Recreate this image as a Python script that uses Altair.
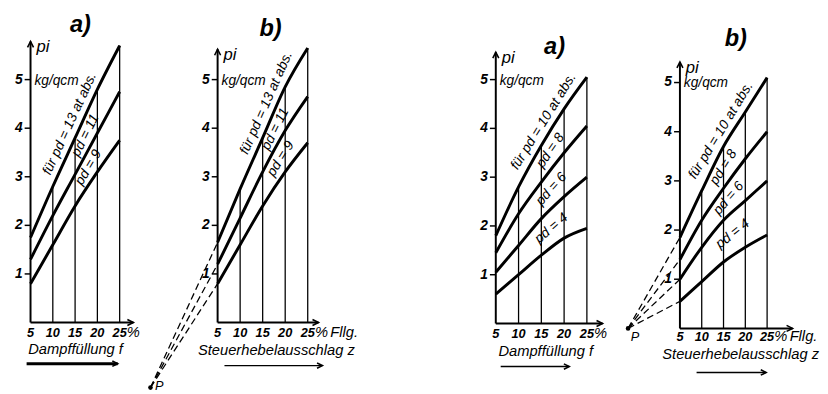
import math
import altair as alt
import numpy as np
import pandas as pd

# ---------------- data ----------------
FILL = [5, 10, 15, 20, 25]
Y_TICKS = [1, 2, 3, 4, 5]

# Panel 1 a)  Dampffüllung, p_d = 13 / 11 / 9
P1A_13 = [1.75, 2.8, 3.8, 4.8, 5.7]
P1A_11 = [1.3, 2.2, 3.05, 3.9, 4.75]
P1A_9 = [0.8, 1.6, 2.4, 3.1, 3.75]
# Panel 1 b)  Steuerhebelausschlag, p_d = 13 / 11 / 9
P1B_13 = [1.65, 2.75, 3.8, 4.85, 5.65]
P1B_11 = [1.2, 2.15, 3.1, 3.95, 4.65]
P1B_9 = [0.8, 1.6, 2.4, 3.1, 3.7]
# Panel 2 a)  Dampffüllung, p_d = 10 / 8 / 6 / 4
P2A_10 = [1.8, 2.8, 3.65, 4.4, 5.05]
P2A_8 = [1.45, 2.25, 2.9, 3.5, 4.05]
P2A_6 = [1.05, 1.6, 2.15, 2.6, 3.0]
P2A_4 = [0.6, 1.0, 1.4, 1.75, 1.95]
# Panel 2 b)  Steuerhebelausschlag, p_d = 10 / 8 / 6 / 4
P2B_10 = [1.85, 2.8, 3.7, 4.4, 5.1]
P2B_8 = [1.4, 2.2, 2.85, 3.45, 4.0]
P2B_6 = [1.0, 1.65, 2.2, 2.6, 3.0]
P2B_4 = [0.55, 0.95, 1.35, 1.65, 1.9]

LABELS_1 = ["für pd = 13 at abs.", "pd = 11", "pd = 9"]
LABELS_2 = ["für pd = 10 at abs.", "pd = 8", "pd = 6", "pd = 4"]

# pole point P (in panel-b units: fill, p_i)
P1_POLE = (-9.9, -1.34)
P2_POLE = (-6.9, 0.0)

FONT = "Liberation Sans"

# ---------------- geometry (pixels) ----------------
G1A = dict(left=8, right=150, ax=31, sx=4.55, y0=319, sy=49.6, ytop=32, xend=136,
           title=(82, 15), xlab=330, xtitle=(77, 346), arr=(27, 120, 361),
           labf=[16.0, 17.3, 18.0], poff=(9, -2))
G1B = dict(left=150, right=470, ax=213, sx=4.6, y0=319, sy=49.6, ytop=40, xend=316,
           title=(267, 19), xlab=330, xtitle=(273, 347), arr=(220, 320, 363),
           labf=[18.0, 17.8, 19.0], poff=(9, -2))
G2A = dict(left=470, right=620, ax=497, sx=4.65, y0=320, sy=49.8, ytop=43, xend=606,
           title=(557, 38), xlab=331, xtitle=(548, 348), arr=(502, 572, 364),
           labf=[17.5, 17.0, 17.2, 17.2], poff=(9, -2))
G2B = dict(left=620, right=820, ax=685, sx=4.45, y0=325, sy=50.2, ytop=53, xend=800,
           title=(742, 30), xlab=334, xtitle=(747, 351), arr=(702, 773, 370),
           labf=[16.5, 15.0, 16.2, 17.1], poff=(7, 9))

UP = "M-0.5,1 L0,0 L0.5,1"
RIGHT = "M-1,-0.5 L0,0 L-1,0.5"


def make_panel(g, series, labels, title, xtitle, fllg, pole=None, bold_arrow=False):
    ax, sx, y0, sy = g["ax"], g["sx"], g["y0"], g["sy"]

    def X(px):
        return 5 + (px - ax) / sx

    def Y(py):
        return (y0 - py) / sy

    xs = alt.Scale(domain=[X(g["left"]), X(g["right"])], nice=False, zero=False)
    ys = alt.Scale(domain=[Y(394), Y(8)], nice=False, zero=False)

    def ex(f="x"):
        return alt.X(f"{f}:Q", scale=xs, axis=None)

    def ey(f="y"):
        return alt.Y(f"{f}:Q", scale=ys, axis=None)

    layers = []
    top = series[0]
    ytop = Y(g["ytop"])
    xend = X(g["xend"])
    xl_dy = g["xlab"] - y0

    # axes
    layers.append(alt.Chart(pd.DataFrame({"x": [5], "y": [0], "y2": [ytop]})).mark_rule(
        color="black", strokeWidth=2).encode(x=ex(), y=ey(), y2="y2:Q"))
    layers.append(alt.Chart(pd.DataFrame({"x": [5], "x2": [xend], "y": [0]})).mark_rule(
        color="black", strokeWidth=2).encode(x=ex(), x2="x2:Q", y=ey()))
    layers.append(alt.Chart(pd.DataFrame({"x": [5], "y": [ytop]})).mark_point(
        shape=UP, size=150, filled=False, color="black", strokeWidth=1.6, opacity=1).encode(x=ex(), y=ey()))
    layers.append(alt.Chart(pd.DataFrame({"x": [xend], "y": [0]})).mark_point(
        shape=RIGHT, size=150, filled=False, color="black", strokeWidth=1.6, opacity=1).encode(x=ex(), y=ey()))

    # y ticks and labels
    tdf = pd.DataFrame({"y": Y_TICKS, "x": [X(ax - 6)] * 5, "x2": [X(ax)] * 5, "t": [str(v) for v in Y_TICKS]})
    layers.append(alt.Chart(tdf).mark_rule(color="black", strokeWidth=1.5).encode(x=ex(), x2="x2:Q", y=ey()))
    layers.append(alt.Chart(tdf.assign(x=5)).mark_text(
        font=FONT, fontSize=14, fontStyle="italic", fontWeight="bold", dx=-12, align="center",
        baseline="middle").encode(x=ex(), y=ey(), text="t:N"))

    # x tick labels
    xdf = pd.DataFrame({"x": FILL, "y": [0] * 5, "t": [str(v) for v in FILL]})
    layers.append(alt.Chart(xdf).mark_text(
        font=FONT, fontSize=13, fontStyle="italic", fontWeight="bold", dy=xl_dy, align="center",
        baseline="middle").encode(x=ex(), y=ey(), text="t:N"))
    extra = pd.DataFrame({"x": [25], "y": [0], "t": ["%"]})
    layers.append(alt.Chart(extra).mark_text(
        font=FONT, fontSize=15, fontStyle="italic", dx=14, dy=xl_dy - 1, align="center",
        baseline="middle").encode(x=ex(), y=ey(), text="t:N"))
    if fllg:
        layers.append(alt.Chart(extra.assign(t="Fllg.")).mark_text(
            font=FONT, fontSize=15, fontStyle="italic", dx=23, dy=xl_dy - 1, align="left",
            baseline="middle").encode(x=ex(), y=ey(), text="t:N"))

    # verticals up to the top curve
    vdf = pd.DataFrame({"x": FILL[1:], "y": [0] * 4, "y2": top[1:]})
    layers.append(alt.Chart(vdf).mark_rule(color="black", strokeWidth=1.3).encode(x=ex(), y=ey(), y2="y2:Q"))

    # dashed lines to pole
    if pole is not None:
        rows = []
        for i, s in enumerate(series):
            rows.append({"x": pole[0], "y": pole[1], "s": i})
            rows.append({"x": 5, "y": s[0], "s": i})
        layers.append(alt.Chart(pd.DataFrame(rows)).mark_line(
            color="black", strokeWidth=1.3, strokeDash=[7, 4]).encode(x=ex(), y=ey(), detail="s:N"))
        pdf = pd.DataFrame({"x": [pole[0]], "y": [pole[1]], "t": ["P"]})
        layers.append(alt.Chart(pdf).mark_point(filled=True, size=22, color="black", opacity=1).encode(
            x=ex(), y=ey()))
        layers.append(alt.Chart(pdf).mark_text(
            font=FONT, fontSize=13, fontStyle="italic", dx=g["poff"][0], dy=g["poff"][1], align="center",
            baseline="middle").encode(x=ex(), y=ey(), text="t:N"))

    # curves
    rows = []
    for i, s in enumerate(series):
        for f, v in zip(FILL, s):
            rows.append({"x": f, "y": v, "s": i})
    layers.append(alt.Chart(pd.DataFrame(rows)).mark_line(
        color="black", strokeWidth=3, interpolate="monotone").encode(x=ex(), y=ey(), detail="s:N"))

    # curve labels, placed along / between the curves
    def val(s, f):
        return float(np.interp(f, FILL, s))

    def ang(s, f):
        d = (val(s, min(f + 2, 25)) - val(s, max(f - 2, 5))) / (min(f + 2, 25) - max(f - 2, 5))
        return math.atan(d * sy / sx)

    lrows = []
    for k, f in enumerate(g["labf"]):
        px = ax + (f - 5) * sx
        if k == 0:
            th = ang(series[0], f)
            py = y0 - val(series[0], f) * sy
            off = 11
            cx, cy = px - math.sin(th) * off, py - math.cos(th) * off
        else:
            th = (ang(series[k - 1], f) + ang(series[k], f)) / 2
            cy = y0 - (val(series[k - 1], f) + val(series[k], f)) / 2 * sy
            cx = px
        lrows.append({"x": X(cx), "y": Y(cy), "a": 360 - math.degrees(th), "t": labels[k]})
    layers.append(alt.Chart(pd.DataFrame(lrows)).mark_text(
        font=FONT, fontSize=14, fontStyle="italic", align="center",
        baseline="middle").encode(x=ex(), y=ey(), text="t:N", angle=alt.Angle("a:Q", scale=None)))

    # p_i and unit
    layers.append(alt.Chart(pd.DataFrame({"x": [5], "y": [ytop], "t": ["pi"]})).mark_text(
        font=FONT, fontSize=17, fontStyle="italic", dx=6, dy=6, align="left",
        baseline="middle").encode(x=ex(), y=ey(), text="t:N"))
    layers.append(alt.Chart(pd.DataFrame({"x": [5], "y": [5], "t": ["kg/qcm"]})).mark_text(
        font=FONT, fontSize=14, fontStyle="italic", dx=4, dy=1, align="left",
        baseline="middle").encode(x=ex(), y=ey(), text="t:N"))

    # title
    layers.append(alt.Chart(pd.DataFrame({"x": [X(g["title"][0])], "y": [Y(g["title"][1])], "t": [title]})).mark_text(
        font=FONT, fontSize=24, fontStyle="italic", fontWeight="bold", align="center",
        baseline="middle").encode(x=ex(), y=ey(), text="t:N"))

    # x title and arrow
    layers.append(alt.Chart(pd.DataFrame({"x": [X(g["xtitle"][0])], "y": [Y(g["xtitle"][1])], "t": [xtitle]})).mark_text(
        font=FONT, fontSize=15, fontStyle="italic", align="center",
        baseline="middle").encode(x=ex(), y=ey(), text="t:N"))
    a0, a1, ay = g["arr"]
    layers.append(alt.Chart(pd.DataFrame({"x": [X(a0)], "x2": [X(a1)], "y": [Y(ay)]})).mark_rule(
        color="black", strokeWidth=3 if bold_arrow else 1.5).encode(x=ex(), x2="x2:Q", y=ey()))
    layers.append(alt.Chart(pd.DataFrame({"x": [X(a1)], "y": [Y(ay)]})).mark_point(
        shape=RIGHT, size=120, filled=False, color="black", strokeWidth=1.6, opacity=1).encode(x=ex(), y=ey()))

    return alt.layer(*layers).properties(width=g["right"] - g["left"], height=386)


p1a = make_panel(G1A, [P1A_13, P1A_11, P1A_9], LABELS_1, "a)", "Dampffüllung f", False, bold_arrow=True)
p1b = make_panel(G1B, [P1B_13, P1B_11, P1B_9], LABELS_1, "b)", "Steuerhebelausschlag z", True, pole=P1_POLE)
p2a = make_panel(G2A, [P2A_10, P2A_8, P2A_6, P2A_4], LABELS_2, "a)", "Dampffüllung f", False)
p2b = make_panel(G2B, [P2B_10, P2B_8, P2B_6, P2B_4], LABELS_2, "b)", "Steuerhebelausschlag z", True, pole=P2_POLE)

chart = alt.hconcat(p1a, p1b, p2a, p2b, spacing=0).properties(padding=0).configure_view(stroke=None)
chart.save("out.html", embed_options={"renderer": "svg", "actions": False})
